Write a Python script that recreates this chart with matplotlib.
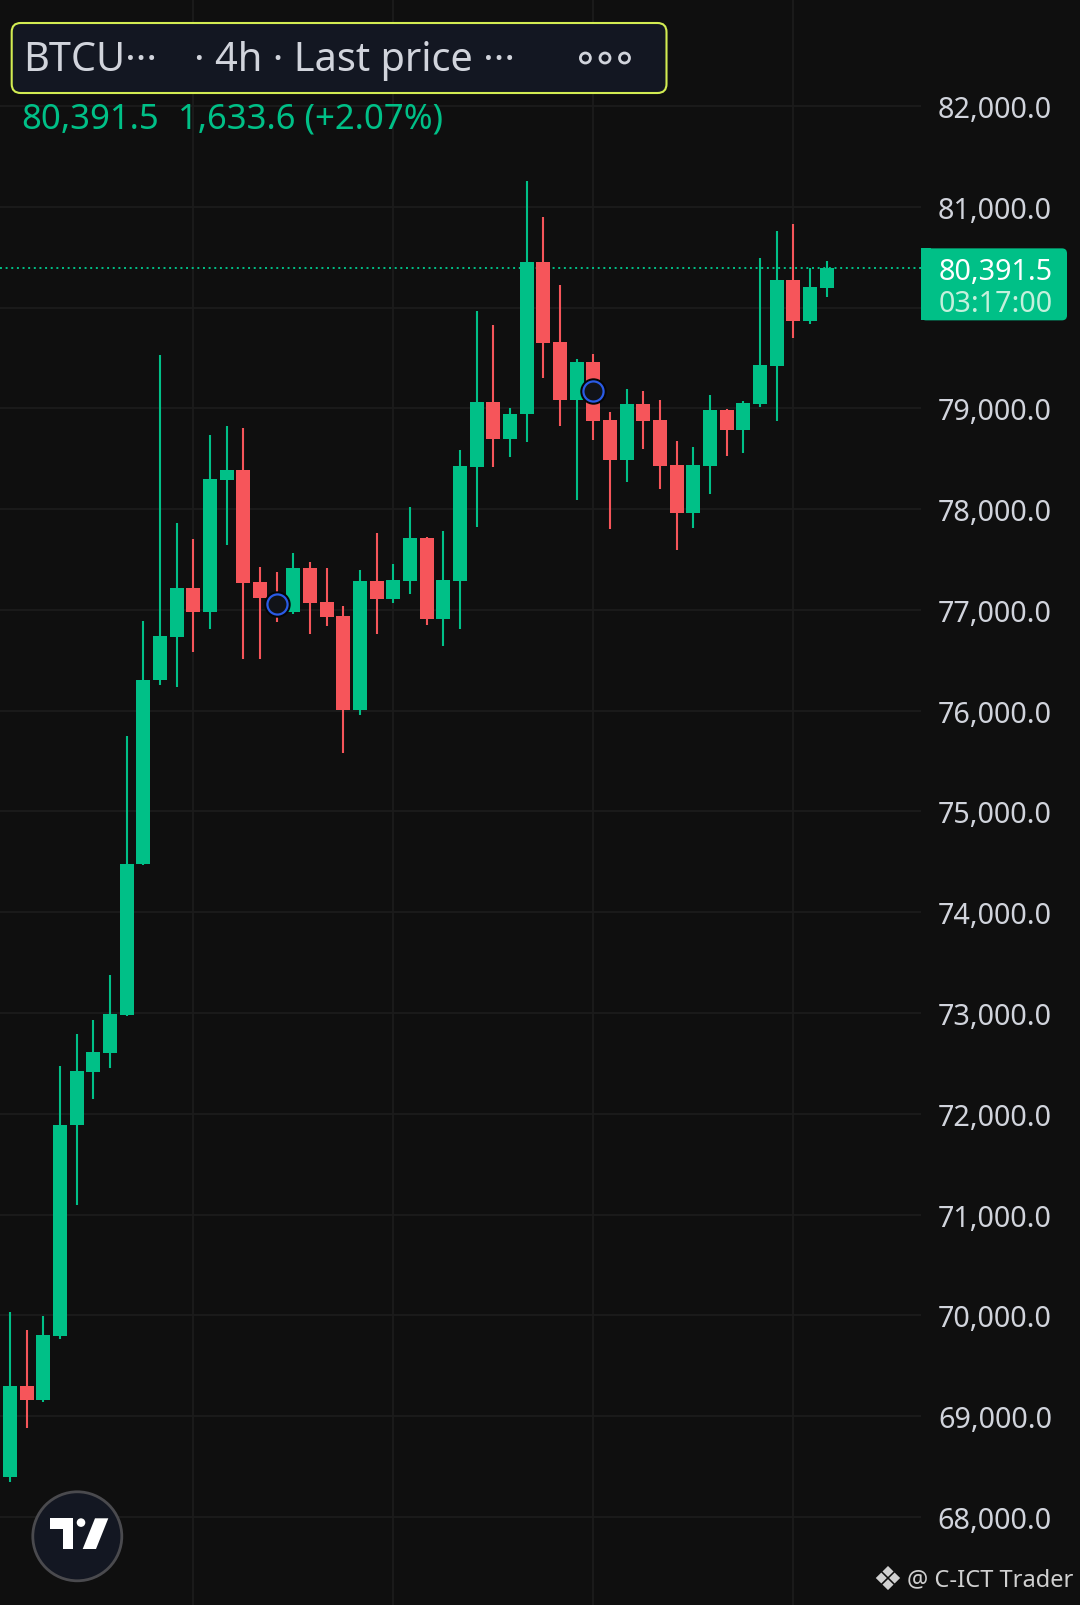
import matplotlib
matplotlib.use("Agg")
import matplotlib.pyplot as plt
from matplotlib.patches import FancyBboxPatch, Circle, Polygon, Rectangle
import numpy as np

# 4h candles
opens = [68395, 69300, 69162, 69794, 71891, 72415, 72602, 72978, 74476, 76300,
         76734, 77217, 76982, 78292, 78388, 77277, 77121, 76982, 77415, 77078,
         76939, 76010, 77287, 77111, 77290, 77713, 76913, 77290, 78421, 79062,
         78698, 78940, 80451, 79658, 79085, 79459, 78884, 78490, 79043, 78884,
         78437, 77964, 78430, 78983, 78788, 79043, 79420, 80273, 79866, 80193]
highs = [70034, 69857, 69995, 72477, 72790, 72932, 73377, 75746, 76891, 79529,
         77862, 77703, 78735, 78824, 78804, 77425, 77376, 77564, 77475, 77415,
         77039, 77396, 77763, 77455, 78021, 77723, 77783, 78586, 79965, 79826,
         79003, 81255, 80898, 80223, 79489, 79539, 78963, 79191, 79171, 79082,
         78676, 78616, 79132, 78993, 79073, 80491, 80759, 80828, 80392, 80461]
lows = [68350, 68883, 69140, 69766, 71093, 72148, 72454, 72970, 74470, 76258,
        76238, 76585, 76813, 77647, 76516, 76516, 76880, 76959, 76764, 76843,
        75583, 75960, 76764, 77071, 77161, 76853, 76645, 76813, 77825, 78421,
        78520, 78669, 79304, 78827, 78093, 78688, 77805, 78272, 78599, 78202,
        77597, 77815, 78153, 78530, 78559, 79013, 78874, 79700, 79839, 80107]
closes = [69300, 69162, 69806, 71891, 72425, 72614, 72990, 74476, 76304, 76743,
          77217, 76982, 78299, 78388, 77270, 77121, 76990, 77415, 77071, 76932,
          76010, 77287, 77111, 77297, 77713, 76913, 77297, 78428, 79062, 78698,
          78943, 80451, 79651, 79085, 79459, 78877, 78490, 79043, 78877, 78430,
          77964, 78437, 78983, 78788, 79053, 79430, 80273, 79866, 80203, 80391.5]

price_ticks = list(range(68000, 83000, 1000))
time_grid_idx = [11, 23, 35, 47]
marker_idx = [16, 35]
marker_price = [77058, 79175]

symbol = "BTCU···"
interval_text = "· 4h · Last price ···"
last_price_text = "80,391.5"
change_text = "1,633.6 (+2.07%)"
countdown = "03:17:00"
watermark = "@ C-ICT Trader"

BG = '#0f0f0f'
GRID = '#1c1c1c'
UP = '#00c087'
DOWN = '#f6555a'
TXT = '#d1d4dc'

plt.rcParams['font.family'] = ['Noto Sans', 'DejaVu Sans']

W, H = 1080, 1606
fig = plt.figure(figsize=(W / 100, H / 100), dpi=100, facecolor=BG)
ax = fig.add_axes([0, 0, 921 / W, 1])
ax.set_facecolor(BG)
ax.set_xlim(-0.6, 54.65)
ax.set_ylim(67127, 83061)

for p in price_ticks:
    ax.axhline(p, color=GRID, lw=1.3, zorder=0)
for i in time_grid_idx:
    ax.axvline(i, color=GRID, lw=1.3, zorder=0)

x = np.arange(len(opens))
o = np.array(opens, dtype=float)
c = np.array(closes, dtype=float)
colors = [UP if cc >= oo else DOWN for oo, cc in zip(o, c)]

# last price line
ax.axhline(closes[-1], color=UP, lw=1.4, ls=(0, (1, 1.9)), zorder=1)

ax.vlines(x, lows, highs, colors=colors, lw=1.5, zorder=2)
ax.bar(x, np.maximum(np.abs(c - o), 15), bottom=np.minimum(o, c), width=0.84,
       color=colors, zorder=3)

# event markers
ax.plot(marker_idx, marker_price, 'o', ms=18, color='#050505', zorder=4)
ax.plot(marker_idx, marker_price, 'o', ms=14.5, mfc='#111318', mec='#2a5be6',
        mew=1.6, zorder=5)

# tick label hidden behind the last price tag is not shown
ax.set_yticks(price_ticks)
ax.set_yticklabels(["" if abs(p - closes[-1]) < 500 else f"{p:,.1f}"
                    for p in price_ticks])
ax.yaxis.tick_right()
ax.tick_params(axis='y', length=0, pad=94.3, labelsize=20.7, labelcolor=TXT)
for lab in ax.get_yticklabels():
    lab.set_horizontalalignment('right')
ax.set_xticks([])
for s in ax.spines.values():
    s.set_visible(False)

# overlay in pixel coords
ov = fig.add_axes([0, 0, 1, 1])
ov.set_xlim(0, W)
ov.set_ylim(H, 0)
ov.axis('off')

# header box
ov.add_patch(FancyBboxPatch((11.7, 24), 654.8, 70,
                            boxstyle="round,pad=0,rounding_size=9",
                            fc='#131722', ec='#d2ec52', lw=1.5))
ov.text(23.5, 71, symbol, fontsize=28.6, color=TXT, va='baseline')
ov.text(194, 71, interval_text, fontsize=28.6, color=TXT, va='baseline')
for cx in [585.4, 605, 624.5]:
    ov.add_patch(Circle((cx, 59), 5.0, fill=False, ec=TXT, lw=2))
ov.text(21.5, 129, last_price_text, fontsize=25, color=UP, va='baseline')
ov.text(178, 129, change_text, fontsize=25, color=UP, va='baseline')

# last price label on the axis
ypix = H - ax.transData.transform((0, closes[-1]))[1]
ov.add_patch(FancyBboxPatch((921, ypix - 19.7), 146, 72,
                            boxstyle="round,pad=0,rounding_size=5",
                            fc=UP, ec='none'))
ov.add_patch(Rectangle((921, ypix - 19.7), 10, 72, fc=UP, ec='none'))
ov.text(1053, ypix, last_price_text, fontsize=20.7, color='white',
        ha='right', va='center_baseline')
ov.text(1053, ypix + 32, countdown, fontsize=20.7, color='#c4f0dc',
        ha='right', va='center_baseline')

# TradingView logo
ov.add_patch(Circle((77.3, 1537.3), 44.5, fc='#131722', ec='#4a4a4e', lw=2))
ov.add_patch(Rectangle((50, 1519.3), 23.3, 10.7, fc='white', ec='none'))
ov.add_patch(Rectangle((63.3, 1519.3), 10, 30.7, fc='white', ec='none'))
ov.add_patch(Circle((81, 1523.6), 4.3, fc='white', ec='none'))
ov.add_patch(Polygon([(95, 1519.3), (108.3, 1519.3), (96, 1550), (82.7, 1550)],
                     closed=True, fc='white', ec='none'))

# watermark
ov.text(887, 1580, '❖', fontsize=24, color='#d0d0d0', ha='center',
        va='center', family=['DejaVu Sans'])
ov.text(907, 1580, watermark, fontsize=17, color='#d0d0d0', ha='left',
        va='center')

fig.savefig('out.png', dpi=100, facecolor=BG)
